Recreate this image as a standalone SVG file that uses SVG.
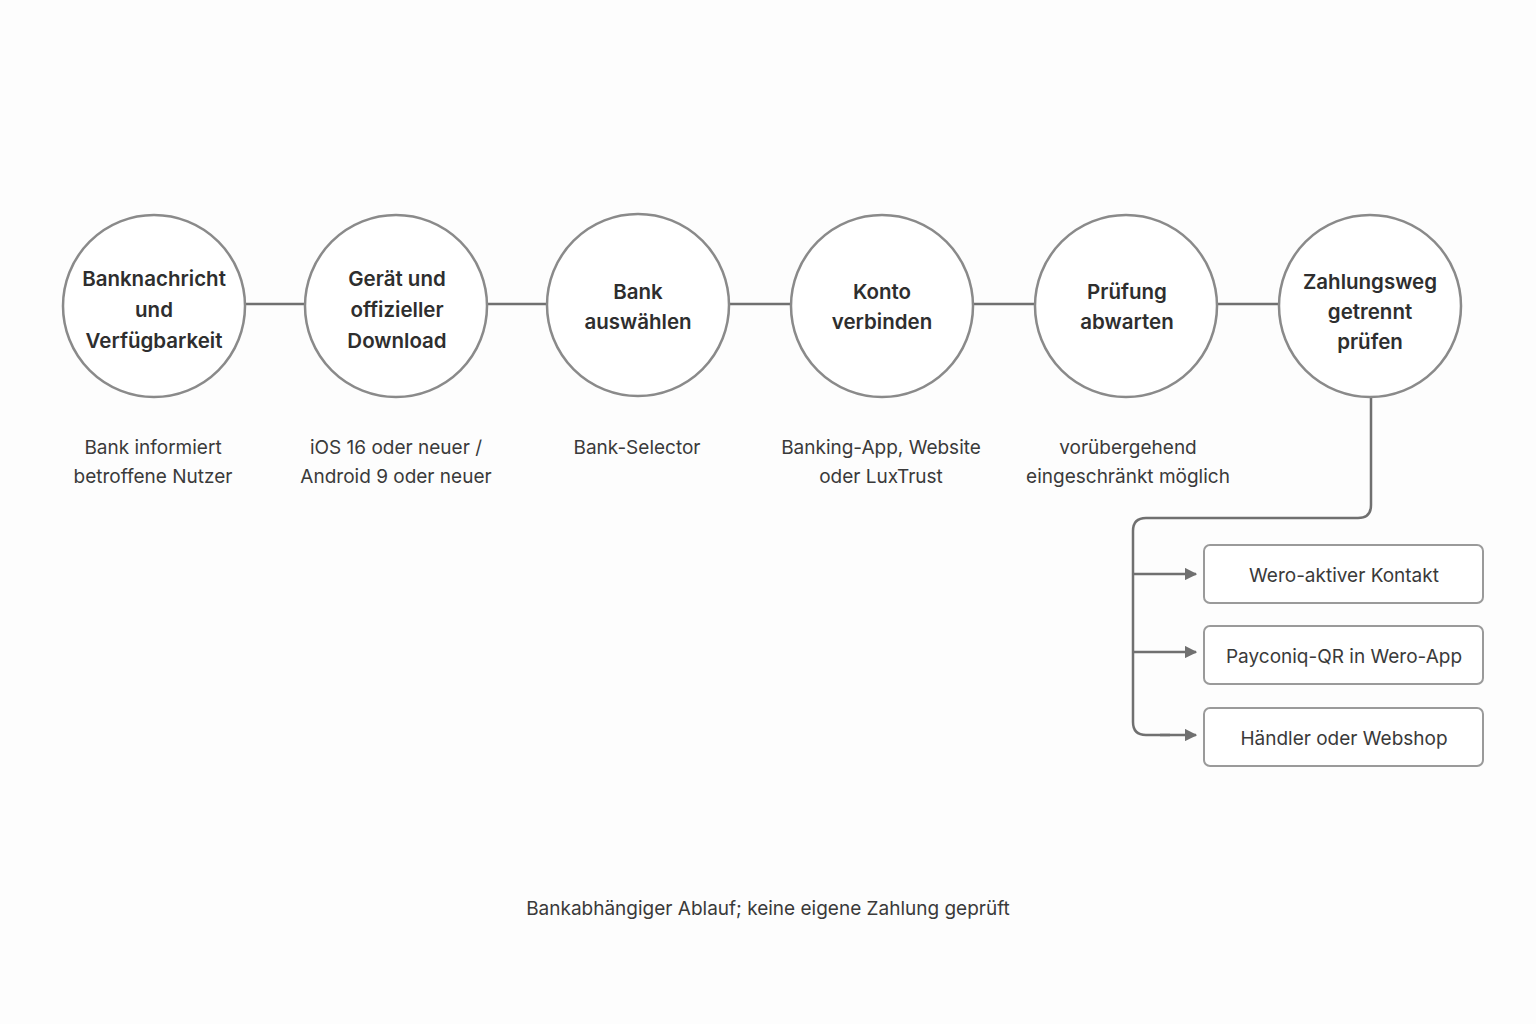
<svg xmlns="http://www.w3.org/2000/svg" width="1536" height="1024" viewBox="0 0 1536 1024">
<style>
.c{fill:#fff;stroke:#8a8a8a;stroke-width:2.5}
.t{font-family:Inter,"Liberation Sans",sans-serif;font-size:20.5px;font-weight:600;fill:#2e2e2e;text-anchor:middle}
.s{font-family:Inter,"Liberation Sans",sans-serif;font-size:19px;fill:#3a3a3a;text-anchor:middle}
.l{fill:none;stroke:#707070;stroke-width:2.5}
.b{fill:#fff;stroke:#9a9a9a;stroke-width:2}
</style>
<defs><marker id="a" viewBox="0 0 10 10" refX="9" refY="5" markerWidth="5" markerHeight="5" orient="auto"><path d="M0,0L10,5L0,10z" fill="#707070"/></marker></defs>
<rect width="1536" height="1024" fill="#fdfdfd"/>
<g id="connectors">
<path class="l" d="M244,304H306M486,304H548M728,304H792M972,304H1036M1216,304H1280"/>
<path class="l" d="M1371,398V505Q1371,518 1358,518H1146Q1133,518 1133,531V722Q1133,735 1146,735H1170"/>
<path class="l" d="M1133,574H1196" marker-end="url(#a)"/>
<path class="l" d="M1133,652H1196" marker-end="url(#a)"/>
<path class="l" d="M1160,735H1196" marker-end="url(#a)"/>
</g>
<g id="n1"><circle class="c" cx="154" cy="306" r="91"/><text class="t" x="154" y="286">Banknachricht</text><text class="t" x="154" y="317">und</text><text class="t" x="154" y="348">Verfügbarkeit</text><text class="s" x="153" y="454">Bank informiert</text><text class="s" x="153" y="483">betroffene Nutzer</text></g>
<g id="n2"><circle class="c" cx="396" cy="306" r="91"/><text class="t" x="397" y="286">Gerät und</text><text class="t" x="397" y="317">offizieller</text><text class="t" x="397" y="348">Download</text><text class="s" x="396" y="454">iOS 16 oder neuer /</text><text class="s" x="396" y="483">Android 9 oder neuer</text></g>
<g id="n3"><circle class="c" cx="638" cy="305" r="91"/><text class="t" x="638" y="299">Bank</text><text class="t" x="638" y="329">auswählen</text><text class="s" x="637" y="454">Bank-Selector</text></g>
<g id="n4"><circle class="c" cx="882" cy="306" r="91"/><text class="t" x="882" y="299">Konto</text><text class="t" x="882" y="329">verbinden</text><text class="s" x="881" y="454">Banking-App, Website</text><text class="s" x="881" y="483">oder LuxTrust</text></g>
<g id="n5"><circle class="c" cx="1126" cy="306" r="91"/><text class="t" x="1127" y="299">Prüfung</text><text class="t" x="1127" y="329">abwarten</text><text class="s" x="1128" y="454">vorübergehend</text><text class="s" x="1128" y="483">eingeschränkt möglich</text></g>
<g id="n6"><circle class="c" cx="1370" cy="306" r="91"/><text class="t" x="1370" y="289">Zahlungsweg</text><text class="t" x="1370" y="319">getrennt</text><text class="t" x="1370" y="349">prüfen</text></g>
<g id="b1"><rect class="b" x="1204" y="545" width="279" height="58" rx="6"/><text class="s" x="1344" y="582">Wero-aktiver Kontakt</text></g>
<g id="b2"><rect class="b" x="1204" y="626" width="279" height="58" rx="6"/><text class="s" x="1344" y="663">Payconiq-QR in Wero-App</text></g>
<g id="b3"><rect class="b" x="1204" y="708" width="279" height="58" rx="6"/><text class="s" x="1344" y="745">Händler oder Webshop</text></g>
<text class="s" x="768" y="915">Bankabhängiger Ablauf; keine eigene Zahlung geprüft</text>
</svg>
